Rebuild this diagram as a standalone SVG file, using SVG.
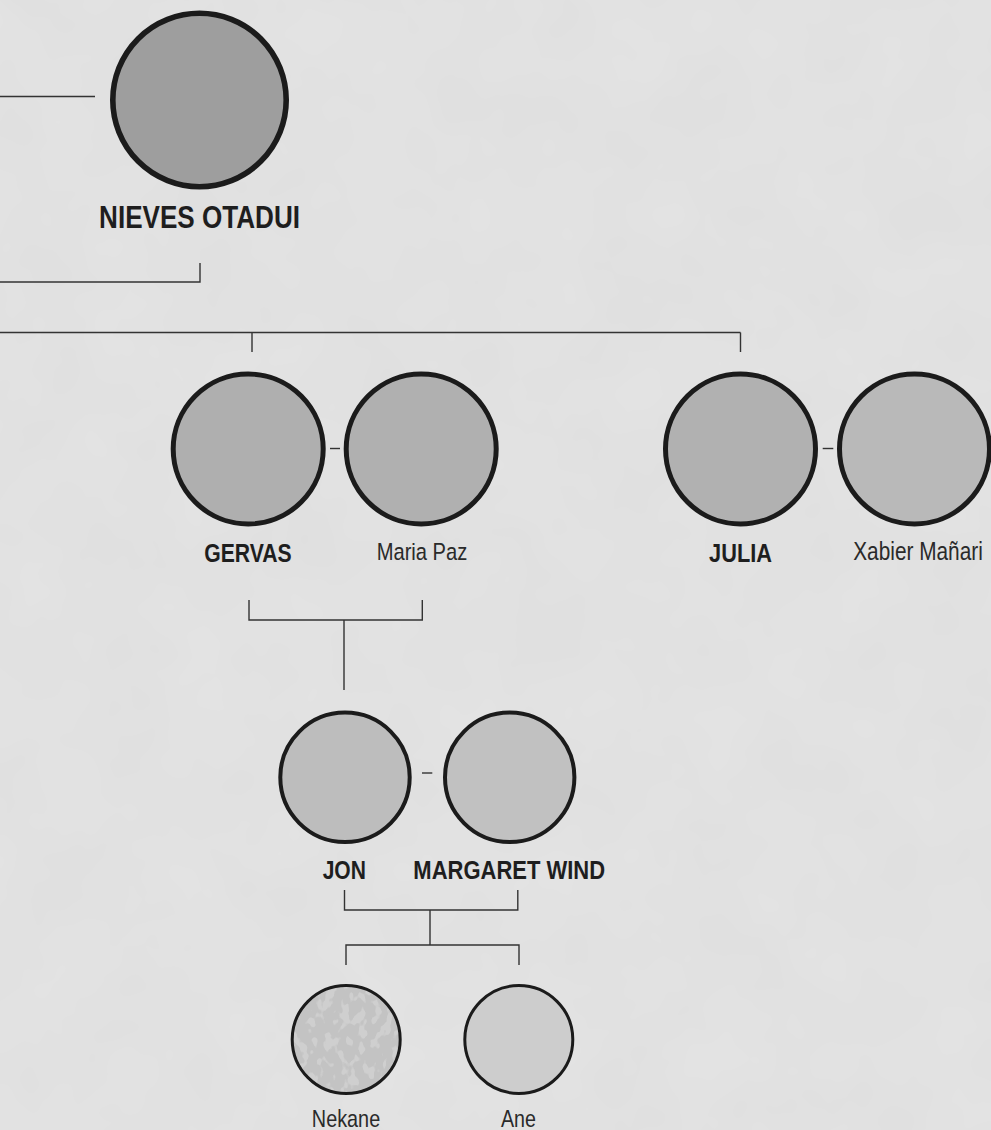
<svg xmlns="http://www.w3.org/2000/svg" width="991" height="1130" viewBox="0 0 991 1130">
  <style>
    .ln { fill: none; stroke: #333333; stroke-width: 1.4; }
    .p1 { stroke: #1b1b1b; stroke-width: 5.6; }
    .p2 { stroke: #1b1b1b; stroke-width: 5; }
    .p3 { stroke: #1b1b1b; stroke-width: 4; }
    .p4 { stroke: #1b1b1b; stroke-width: 3; }
    .b { font-family: "Liberation Sans", Arial, sans-serif; font-weight: bold; fill: #1e1e1e; text-anchor: middle; }
    .r { font-family: "Liberation Sans", Arial, sans-serif; font-weight: normal; fill: #2a2a2a; text-anchor: middle; }
  </style>
  <defs>
    <filter id="paper" x="0" y="0" width="100%" height="100%">
      <feTurbulence type="fractalNoise" baseFrequency="0.012" numOctaves="3" seed="7" result="n"/>
      <feColorMatrix in="n" type="matrix" values="0 0 0 0 0.55  0 0 0 0 0.55  0 0 0 0 0.55  0 0 0 0.16 0" />
    </filter>
    <filter id="blotch" x="0" y="0" width="100%" height="100%" color-interpolation-filters="sRGB">
      <feTurbulence type="fractalNoise" baseFrequency="0.12 0.08" numOctaves="2" seed="5" result="n"/>
      <feColorMatrix in="n" type="matrix" values="0 0 0 0 0.81  0 0 0 0 0.81  0 0 0 0 0.81  12 0 0 0 -6.3" result="m"/>
      <feComposite in="m" in2="SourceGraphic" operator="in"/>
    </filter>
  </defs>

  <rect id="background" x="0" y="0" width="991" height="1130" fill="#e4e4e4"/>
  <rect x="0" y="0" width="991" height="1130" fill="#ffffff" filter="url(#paper)"/>

  <g id="connectors">
    <path class="ln" d="M0,96.5 H95"/>
    <path class="ln" d="M0,282 H200 V263"/>
    <path class="ln" d="M0,332.5 H740.5 M252,332.5 V352 M740.5,332.5 V352"/>
    <path class="ln" d="M330,448.5 H340"/>
    <path class="ln" d="M822.7,448.5 H833.3"/>
    <path class="ln" d="M249,600 V620 H422.3 V600 M344,620 V690"/>
    <path class="ln" d="M422,773 H432.3"/>
    <path class="ln" d="M344.5,890 V910 H517.8 V890 M430,910 V945 M346,965 V945 H519 V965"/>
  </g>

  <g id="node-nieves">
    <circle class="p1" cx="199.5" cy="100" r="86.7" fill="#9e9e9e"/>
    <text class="b" transform="translate(199.5,228) scale(0.82,1)" x="0" y="0" font-size="32" textLength="245" lengthAdjust="spacingAndGlyphs">NIEVES OTADUI</text>
  </g>

  <g id="node-gervas">
    <circle class="p2" cx="248.2" cy="449" r="75" fill="#afafaf"/>
    <text class="b" transform="translate(248,561.5) scale(0.82,1)" x="0" y="0" font-size="25.5" textLength="106.7" lengthAdjust="spacingAndGlyphs">GERVAS</text>
  </g>

  <g id="node-mariapaz">
    <circle class="p2" cx="421.2" cy="449" r="75" fill="#b0b0b0"/>
    <text class="r" transform="translate(422,560) scale(0.82,1)" x="0" y="0" font-size="24.5" textLength="110.5" lengthAdjust="spacingAndGlyphs">Maria Paz</text>
  </g>

  <g id="node-julia">
    <circle class="p2" cx="740.5" cy="449" r="75" fill="#b1b1b1"/>
    <text class="b" transform="translate(740.5,562) scale(0.82,1)" x="0" y="0" font-size="26" textLength="76.8" lengthAdjust="spacingAndGlyphs">JULIA</text>
  </g>

  <g id="node-xabier">
    <circle class="p2" cx="914.5" cy="449" r="75" fill="#b9b9b9"/>
    <text class="r" transform="translate(918,560) scale(0.82,1)" x="0" y="0" font-size="25" textLength="158" lengthAdjust="spacingAndGlyphs">Xabier Mañari</text>
  </g>

  <g id="node-jon">
    <circle class="p3" cx="345" cy="777.3" r="64.7" fill="#bdbdbd"/>
    <text class="b" transform="translate(344.3,879) scale(0.82,1)" x="0" y="0" font-size="26.5" textLength="52.8" lengthAdjust="spacingAndGlyphs">JON</text>
  </g>

  <g id="node-margaret">
    <circle class="p3" cx="509.7" cy="777.3" r="64.7" fill="#c1c1c1"/>
    <text class="b" transform="translate(509.2,879) scale(0.82,1)" x="0" y="0" font-size="26.5" textLength="233.8" lengthAdjust="spacingAndGlyphs">MARGARET WIND</text>
  </g>

  <g id="node-nekane">
    <circle cx="346.2" cy="1039.5" r="54" fill="#c3c3c3"/>
    <circle cx="346.2" cy="1039.5" r="54" fill="#000" filter="url(#blotch)"/>
    <circle class="p4" cx="346.2" cy="1039.5" r="54" fill="none"/>
    <text class="r" transform="translate(346,1126.5) scale(0.82,1)" x="0" y="0" font-size="24.2" textLength="83.3" lengthAdjust="spacingAndGlyphs">Nekane</text>
  </g>

  <g id="node-ane">
    <circle class="p4" cx="518.8" cy="1039.5" r="54" fill="#cdcdcd"/>
    <text class="r" transform="translate(518.5,1126.5) scale(0.82,1)" x="0" y="0" font-size="24" textLength="42.7" lengthAdjust="spacingAndGlyphs">Ane</text>
  </g>
</svg>
